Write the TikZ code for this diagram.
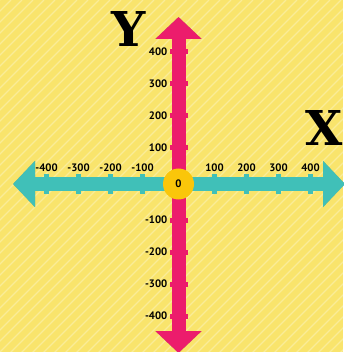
\documentclass[tikz,border=0pt]{standalone}
\usepackage{fontspec}
\setmainfont{PT Sans}
\newfontfamily\axisfont{DejaVu Serif}
\usetikzlibrary{arrows.meta}

\definecolor{bgyellow}{RGB}{249,228,108}
\definecolor{axispink}{RGB}{236,28,108}
\definecolor{axisteal}{RGB}{64,192,184}
\definecolor{dotyellow}{RGB}{250,198,10}
\definecolor{shadowgreen}{RGB}{60,110,60}

\tikzset{
	axisline/.style={line width=14pt,{Triangle[width=45pt,length=22pt]}-{Triangle[width=45pt,length=22pt]}},
	numlabel/.style={font=\bfseries\fontsize{10.8}{12}\selectfont,inner sep=0pt},
	axisname/.style={font=\axisfont\bfseries\fontsize{48}{50}\selectfont,inner sep=0pt}
}

\begin{document}
\begin{tikzpicture}[x=1pt,y=-1pt]
			\useasboundingbox (0,0) rectangle (343,352);
			\fill[bgyellow] (0,0) rectangle (343,352);
			\begin{scope}
				\clip (0,0) rectangle (343,352);
				\foreach \s in {0,11,...,715}
					\draw[white,opacity=0.3,line width=1.2pt] (\s-360,360) -- (\s,0);
			\end{scope}
			\coordinate (xleft) at (13,184);
			\coordinate (xright) at (345,184);
			\coordinate (ytop) at (178.5,17);
			\coordinate (ybot) at (178.5,353);
			% shadows
			\draw[axisline,shadowgreen,opacity=0.45,shift={(1.2,1.2)}] (xleft) -- (xright);
			\draw[axisline,axisteal] (xleft) -- (xright);
			\foreach \d in {36,68,100,132} {
				\fill[axisteal] (178.5-\d-2.5,174.5) rectangle (178.5-\d+2.5,193.5);
				\fill[axisteal] (178.5+\d-2.5,174.5) rectangle (178.5+\d+2.5,193.5);
			}
			\draw[axisline,shadowgreen,opacity=0.45,shift={(1.2,1.2)}] (ytop) -- (ybot);
			\draw[axisline,axispink] (ytop) -- (ybot);
			\foreach \d in {36,68,100,132} {
				\fill[axispink] (169.5,184-\d-2.5) rectangle (187.5,184-\d+2.5);
				\fill[axispink] (169.5,184+\d-2.5) rectangle (187.5,184+\d+2.5);
			}
			\foreach \d/\v in {36/100,68/200,100/300,132/400} {
				\node[numlabel] (xn\v) at (178.5-\d,168) {-\v};
				\node[numlabel] (xp\v) at (178.5+\d,168) {\v};
				\node[numlabel,anchor=east] (yp\v) at (167.5,184-\d) {\v};
				\node[numlabel,anchor=east] (yn\v) at (167.5,184+\d) {-\v};
			}
			\node[circle,fill=dotyellow,minimum size=31pt,inner sep=0pt,font=\bfseries\fontsize{10.8}{12}\selectfont] (origin) at (178.5,184) {0};
			\node[axisname] (ylabel) at (129,29.5) {Y};
			\node[axisname,anchor=east] (xlabel) at (343,128.5) {X};
		\end{tikzpicture}
\end{document}
